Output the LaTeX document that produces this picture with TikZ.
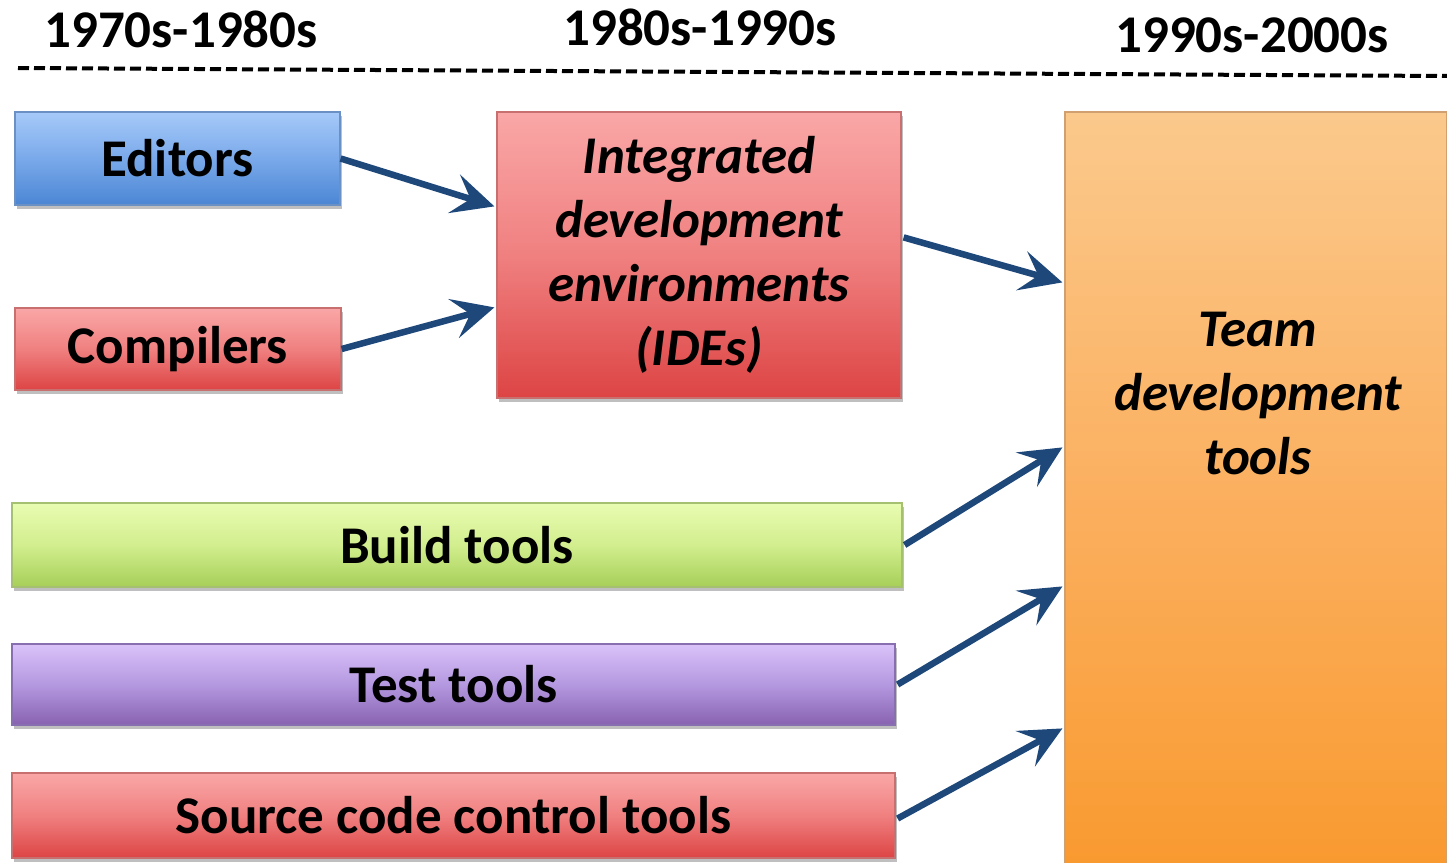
\documentclass[tikz,border=0pt]{standalone}
\usepackage{fontspec}
\setmainfont{Carlito}
\usetikzlibrary{arrows.meta,calc,shadows}
\definecolor{arrowblue}{HTML}{1F487A}
\definecolor{blueT}{HTML}{A6CAF9}
\definecolor{blueM}{HTML}{7AA9EA}
\definecolor{blueB}{HTML}{4B86D4}
\definecolor{blueD}{HTML}{6B90C4}
\definecolor{redT}{HTML}{FAA7A7}
\definecolor{redM}{HTML}{F08080}
\definecolor{redB}{HTML}{DD4444}
\definecolor{redD}{HTML}{C87070}
\definecolor{greenT}{HTML}{E9FCB2}
\definecolor{greenM}{HTML}{D2EE8E}
\definecolor{greenB}{HTML}{A6CF58}
\definecolor{greenD}{HTML}{A4C070}
\definecolor{purpT}{HTML}{DAC2F9}
\definecolor{purpM}{HTML}{B498E0}
\definecolor{purpB}{HTML}{8862B0}
\definecolor{purpD}{HTML}{8870B0}
\definecolor{orT}{HTML}{FBC98C}
\definecolor{orM}{HTML}{FBB060}
\definecolor{orB}{HTML}{F99A30}
\definecolor{orD}{HTML}{D0A070}
\tikzset{
  x=1pt, y=-1pt,
  bigfont/.style={font=\fontsize{53}{64}\selectfont\bfseries},
  itfont/.style={font=\fontsize{53}{64}\selectfont\bfseries\itshape},
  boxbase/.style={rectangle, inner sep=0pt, line width=1.2pt, text=black,
    drop shadow={shadow xshift=1.5pt, shadow yshift=-4pt, opacity=0.25, fill=black}},
  bluebox/.style={boxbase, draw=blueD, top color=blueT, bottom color=blueB, middle color=blueM},
  redbox/.style={boxbase, draw=redD, top color=redT, bottom color=redB, middle color=redM},
  greenbox/.style={boxbase, draw=greenD, top color=greenT, bottom color=greenB, middle color=greenM},
  purpbox/.style={boxbase, draw=purpD, top color=purpT, bottom color=purpB, middle color=purpM},
  orbox/.style={boxbase, draw=orD, top color=orT, bottom color=orB, middle color=orM},
  flow/.style={draw=arrowblue, line width=6.5pt,
    -{Stealth[length=42pt, width=40pt, inset=17pt]}},
  period/.style={bigfont, anchor=base}
}
\begin{document}
\begin{tikzpicture}
\useasboundingbox (0,0) rectangle (1447,862);
\fill[white] (0,0) rectangle (1447,862);

% period headings
\node[period] (p1) at (181,47) {1970s-1980s};
\node[period] (p2) at (700,45) {1980s-1990s};
\node[period] (p3) at (1252,52) {1990s-2000s};
\coordinate (dl) at (18,68);
\coordinate (dr) at (1447,76);
\draw[black, line width=4pt, dash pattern=on 11pt off 5pt] (dl) -- (dr);

% boxes
\node[bluebox, bigfont, minimum width=325pt, minimum height=93pt] (editors) at (177.5,158.5) {Editors};
\node[redbox, bigfont, minimum width=326pt, minimum height=82pt] (compilers) at (178,349) {\raisebox{-6pt}{Compilers}};
\node[redbox, itfont, align=center, minimum width=404pt, minimum height=286pt] (ide) at (699,255)
  {Integrated\\development\\environments\\(IDEs)};
\node[orbox, minimum width=382pt, minimum height=752pt] (team) at (1256,488) {};
\node[itfont, align=center] (teamtext) at (1258,394) {Team\\development\\tools};
\node[greenbox, bigfont, minimum width=890pt, minimum height=84pt] (build) at (457,545) {Build tools};
\node[purpbox, bigfont, minimum width=883pt, minimum height=81pt] (test) at (453.5,684.5) {Test tools};
\node[redbox, bigfont, minimum width=883pt, minimum height=85pt] (source) at (453.5,815.5) {Source code control tools};

% connectors
\draw[flow] (editors.east) -- ($(ide.north west)+(-2,95)$);
\draw[flow] (compilers.east) -- ($(ide.north west)+(-2,196)$);
\draw[flow] ($(ide.north east)+(2,126)$) -- ($(team.north west)+(-2,171)$);
\draw[flow] ($(build.east)+(2,0)$) -- ($(team.north west)+(-2,336)$);
\draw[flow] ($(test.east)+(2,0)$) -- ($(team.north west)+(-2,475)$);
\draw[flow] ($(source.east)+(2,3)$) -- ($(team.north west)+(-2,617)$);
\end{tikzpicture}
\end{document}
